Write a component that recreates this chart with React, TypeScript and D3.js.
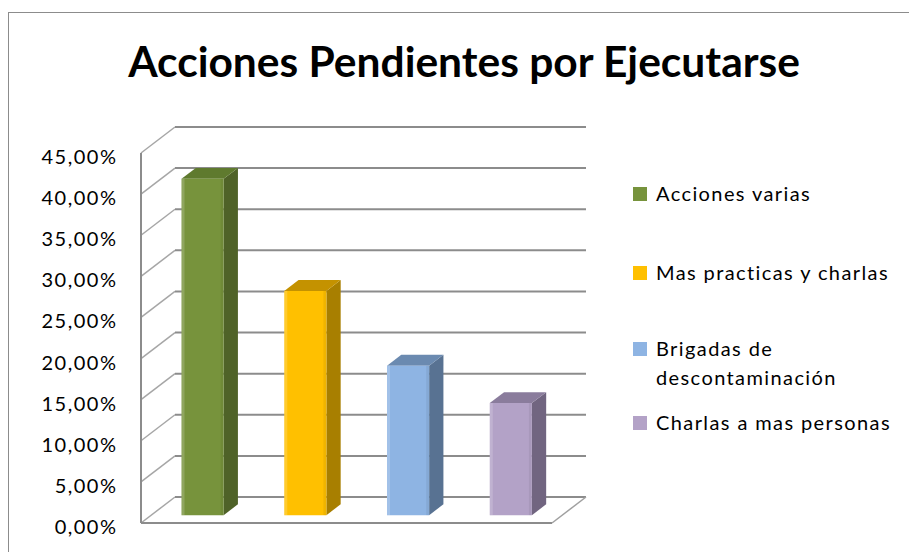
import * as d3 from "d3";

const categories = [
  "Acciones varias",
  "Mas practicas y charlas",
  "Brigadas de descontaminación",
  "Charlas a mas personas",
];
const values = [0.4091, 0.2727, 0.1818, 0.1364];
const legendLines = [
  ["Acciones varias"],
  ["Mas practicas y charlas"],
  ["Brigadas de", "descontaminación"],
  ["Charlas a mas personas"],
];
const frontColors = ["#77933C", "#FFC000", "#8EB4E3", "#B3A2C7"];
const sideColors = ["#4F6228", "#A87F00", "#587292", "#716580"];
const topColors = ["#5F7A2E", "#C49200", "#6B8AB0", "#8A7C9C"];
const yTicks = [0, 0.05, 0.1, 0.15, 0.2, 0.25, 0.3, 0.35, 0.4, 0.45];
const legendY = [194, 273, 349, 423];

const W = 909;
const H = 552;
const FONT = "Lato, 'Open Sans', sans-serif";
// depth offset of the 3D box
const DX = 34;
const DY = -26;
const Z0 = 0.3;
const Z1 = 0.72;

export default function App() {
  const x = d3.scaleBand<string>().domain(categories).range([141, 552]).paddingInner(0.59).paddingOuter(0.295);
  const y = d3.scaleLinear().domain([0, 0.45]).range([523, 153]);
  const proj = (px: number, py: number, z: number): [number, number] => [px + DX * z, py + DY * z];
  const poly = (pts: [number, number][]) => pts.map((p) => p.join(",")).join(" ");
  const fmt = (v: number) => (v * 100).toFixed(2).replace(".", ",") + "%";

  return (
    <div style={{ position: "fixed", left: 0, top: 0 }}>
      <svg width={W} height={H} style={{ display: "block", background: "#fff" }}>
        <rect x={8.5} y={12.5} width={W + 10} height={H + 10} fill="#fff" stroke="#8c8c8c" strokeWidth={1} />

        <text x={464} y={77} textAnchor="middle" fontFamily={FONT} fontWeight="bold" fontSize={42.5} fill="#000">
          Acciones Pendientes por Ejecutarse
        </text>

        {/* back wall gridlines and side wall lines */}
        {yTicks.map((t) => {
          const [bx0, by] = proj(141, y(t), 1);
          const [bx1] = proj(552, y(t), 1);
          return (
            <g key={t}>
              <line x1={141} y1={y(t)} x2={bx0} y2={by} stroke="#a6a6a6" strokeWidth={1.5} />
              <line x1={bx0} y1={by} x2={bx1} y2={by} stroke="#8c8c8c" strokeWidth={2} />
            </g>
          );
        })}

        {/* floor edges and front axis */}
        <line x1={141} y1={y(0)} x2={552} y2={y(0)} stroke="#8c8c8c" strokeWidth={2} />
        <line x1={552} y1={y(0)} x2={proj(552, y(0), 1)[0]} y2={proj(552, y(0), 1)[1]} stroke="#a0a0a0" strokeWidth={1.5} />
        <line x1={141} y1={y(0.45)} x2={141} y2={y(0)} stroke="#8c8c8c" strokeWidth={2} />

        {/* bars */}
        {categories.map((c, i) => {
          const x0 = x(c)!;
          const x1 = x0 + x.bandwidth();
          const yt = y(values[i]);
          const yb = y(0);
          const front: [number, number][] = [proj(x0, yt, Z0), proj(x1, yt, Z0), proj(x1, yb, Z0), proj(x0, yb, Z0)];
          const side: [number, number][] = [proj(x1, yt, Z0), proj(x1, yt, Z1), proj(x1, yb, Z1), proj(x1, yb, Z0)];
          const top: [number, number][] = [proj(x0, yt, Z0), proj(x1, yt, Z0), proj(x1, yt, Z1), proj(x0, yt, Z1)];
          const [fx, fy] = proj(x0, yt, Z0);
          return (
            <g key={c}>
              <polygon points={poly(side)} fill={sideColors[i]} />
              <polygon points={poly(top)} fill={topColors[i]} />
              <polygon points={poly(front)} fill={frontColors[i]} />
              <rect x={fx} y={fy} width={3} height={yb - yt} fill="#fff" opacity={0.18} />
              <rect x={fx + x.bandwidth() - 3} y={fy} width={3} height={yb - yt} fill="#000" opacity={0.06} />
            </g>
          );
        })}

        {/* y axis labels */}
        {yTicks.map((t) => (
          <text key={t} x={117.5} y={y(t) + 11} textAnchor="end" fontFamily={FONT} fontSize={20} letterSpacing={1.5} fill="#000">
            {fmt(t)}
          </text>
        ))}

        {/* legend */}
        {legendLines.map((lines, i) => (
          <g key={i}>
            <rect x={633} y={legendY[i] - 7} width={14} height={14} fill={frontColors[i]} />
            {lines.map((l, j) => (
              <text key={j} x={656} y={legendY[i] + 7 + j * 29} fontFamily={FONT} fontSize={20} letterSpacing={1.4} fill="#000">
                {l}
              </text>
            ))}
          </g>
        ))}
      </svg>
    </div>
  );
}
